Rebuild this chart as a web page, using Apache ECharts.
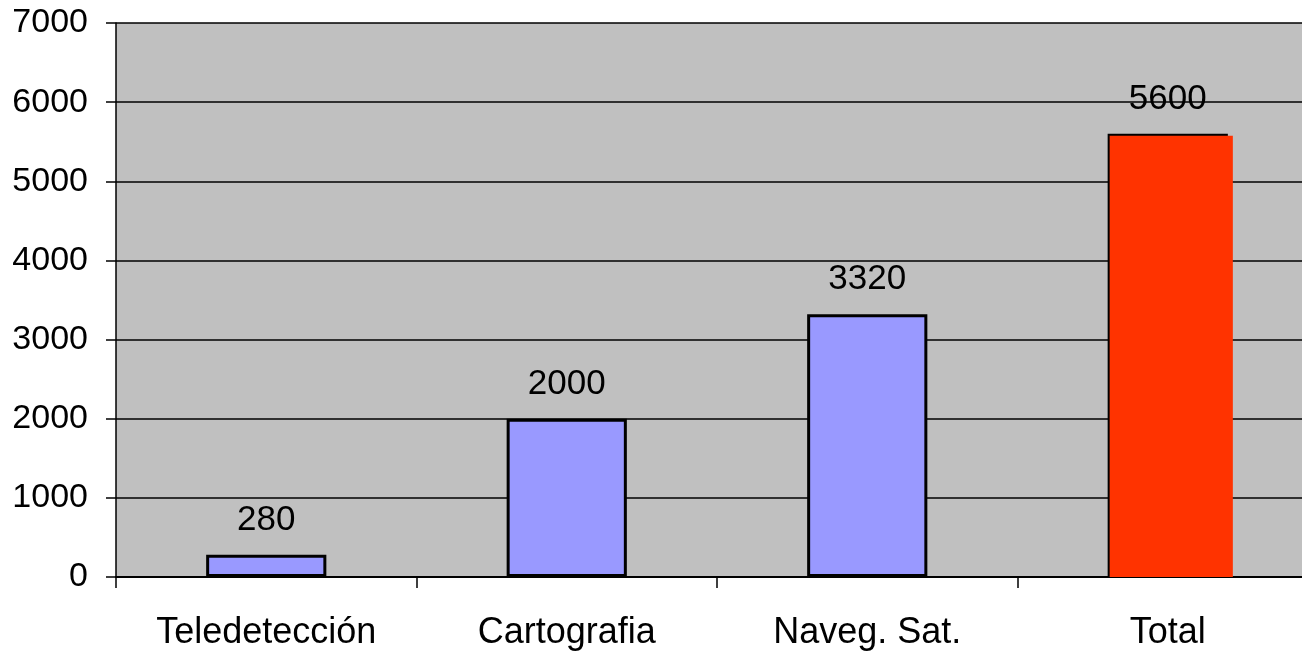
<!DOCTYPE html>
<html>
<head>
<meta charset="utf-8">
<script src="https://cdn.jsdelivr.net/npm/echarts@6/dist/echarts.min.js"></script>
<style>
  html, body { margin: 0; padding: 0; background: #ffffff; overflow: hidden; }
  #chart { width: 1320px; height: 654px; }
</style>
</head>
<body>
<div id="chart"></div>
<script>
// Categories and values
const categories = ['Teledetección', 'Cartografia', 'Naveg. Sat.', 'Total'];
const values = [280, 2000, 3320, 5600];
const yTicks = [0, 1000, 2000, 3000, 4000, 5000, 6000, 7000];

const BLUE = '#9999FF';
const RED = '#FF3300';
const FONT = 'Liberation Sans, Arial, sans-serif';

const totalIndex = categories.length - 1;

const barData = values.map((v, i) => ({
  value: v,
  itemStyle: { color: i === totalIndex ? RED : BLUE }
}));

const chart = echarts.init(document.getElementById('chart'), null, { renderer: 'canvas' });

chart.setOption({
  backgroundColor: '#ffffff',
  animation: false,
  grid: { left: 116, top: 23, right: 2, bottom: 77, show: true, backgroundColor: '#C0C0C0', borderWidth: 0 },
  xAxis: {
    type: 'category',
    data: categories,
    axisLine: { show: true, lineStyle: { color: '#000', width: 2 } },
    axisTick: { show: true, alignWithLabel: false, length: 11, lineStyle: { color: '#000', width: 1.5 } },
    axisLabel: { color: '#000', fontSize: 36, fontFamily: FONT, margin: 38 },
    splitLine: { show: false }
  },
  yAxis: {
    type: 'value',
    min: yTicks[0],
    max: yTicks[yTicks.length - 1],
    interval: 1000,
    axisLine: { show: true, lineStyle: { color: '#000', width: 1.5 } },
    axisTick: { show: true, length: 10, lineStyle: { color: '#000', width: 1.5 } },
    axisLabel: { color: '#000', fontSize: 34, fontFamily: FONT, margin: 28, formatter: v => String(v) },
    splitLine: { show: true, lineStyle: { color: '#000', width: 1.5 } }
  },
  series: [
    {
      type: 'bar',
      data: barData,
      barWidth: '40%',
      itemStyle: { borderColor: '#000', borderWidth: 3 },
      label: {
        show: true,
        position: 'top',
        distance: 17,
        color: '#000',
        fontSize: 35,
        fontFamily: FONT
      }
    },
    {
      // red fill of the Total bar, slightly shifted over its right edge
      type: 'custom',
      data: [[totalIndex, values[totalIndex]]],
      renderItem: function (params, api) {
        const top = api.coord([api.value(0), api.value(1)]);
        const base = api.coord([api.value(0), 0]);
        const w = api.size([1, 0])[0] * 0.4;
        const x0 = top[0] - w / 2 + 2;
        return {
          type: 'rect',
          shape: { x: x0, y: top[1] + 2, width: w + 3, height: base[1] - top[1] - 2 },
          style: { fill: RED }
        };
      },
      z: 3
    }
  ]
});
</script>
</body>
</html>
